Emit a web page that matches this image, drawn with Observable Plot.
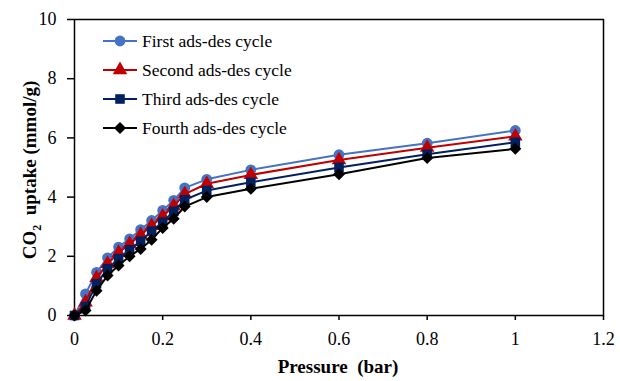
<!DOCTYPE html>
<html><head><meta charset="utf-8">
<script src="https://cdn.jsdelivr.net/npm/d3@7"></script>
<script src="https://cdn.jsdelivr.net/npm/@observablehq/plot@0.6"></script>
<style>
body{margin:0;background:#fff}
#wrap{position:relative;width:620px;height:381px}
</style>
</head><body><div id="wrap"></div>
<script>
const pressure = [0, 0.025, 0.05, 0.075, 0.1, 0.125, 0.15, 0.175, 0.2, 0.225, 0.25, 0.3, 0.4, 0.6, 0.8, 1.0];
const first  = [0, 0.73, 1.46, 1.95, 2.31, 2.59, 2.90, 3.21, 3.55, 3.89, 4.31, 4.60, 4.92, 5.43, 5.82, 6.25];
const second = [0, 0.45, 1.27, 1.75, 2.12, 2.42, 2.72, 3.03, 3.35, 3.70, 4.10, 4.45, 4.75, 5.25, 5.67, 6.05];
const third  = [0, 0.30, 1.07, 1.58, 1.92, 2.22, 2.51, 2.85, 3.15, 3.52, 3.91, 4.22, 4.50, 5.00, 5.45, 5.85];
const fourth = [0, 0.17, 0.84, 1.35, 1.69, 2.00, 2.25, 2.56, 2.96, 3.27, 3.68, 4.00, 4.28, 4.77, 5.32, 5.63];
const seriesNames = ["First ads-des cycle", "Second ads-des cycle", "Third ads-des cycle", "Fourth ads-des cycle"];
const xTicks = [0, 0.2, 0.4, 0.6, 0.8, 1, 1.2];
const yTicks = [0, 2, 4, 6, 8, 10];

const colors = ["#4472C4", "#C00000", "#002060", "#000000"];
const symbols = ["circle", "triangle", "square", "diamond2"];
const seriesValues = [first, second, third, fourth];

const rows = [];
seriesValues.forEach((vals, i) => {
  vals.forEach((v, j) => rows.push({series: seriesNames[i], p: pressure[j], v}));
});

const serif = "'Liberation Serif', 'Times New Roman', serif";

const marks = [
  Plot.frame({stroke: "#000", strokeWidth: 1.5}),
  Plot.axisX({ticks: xTicks, tickSize: 5, tickPadding: 12, tickFormat: d => String(d), fontSize: 18, label: null, strokeWidth: 1.5}),
  Plot.axisY({ticks: yTicks, tickSize: 7, tickPadding: 11, tickFormat: d => String(d), fontSize: 18, label: null, strokeWidth: 1.5})
];
seriesNames.forEach((name, i) => {
  const data = rows.filter(r => r.series === name);
  marks.push(Plot.line(data, {x: "p", y: "v", stroke: colors[i], strokeWidth: 2}));
  marks.push(Plot.dot(data, {x: "p", y: "v", fill: colors[i], stroke: "none", symbol: symbols[i], r: 5.4}));
});

const chart = Plot.plot({
  width: 620, height: 381,
  marginLeft: 74, marginRight: 17, marginTop: 19, marginBottom: 66,
  style: {fontFamily: serif, fontSize: "18px", color: "#000", background: "#fff"},
  x: {domain: [0, 1.2]},
  y: {domain: [0, 10]},
  marks
});
document.getElementById("wrap").appendChild(chart);

const svg = d3.select(chart);
// axis titles
svg.append("text")
  .attr("x", 338).attr("y", 373)
  .attr("text-anchor", "middle")
  .style("font", `bold 19px ${serif}`).style("white-space", "pre")
  .text("Pressure  (bar)");
const yt = svg.append("text")
  .attr("transform", "translate(36,170) rotate(-90)")
  .attr("text-anchor", "middle")
  .style("font", `bold 19px ${serif}`).style("white-space", "pre");
yt.append("tspan").text("CO");
yt.append("tspan").attr("dy", 5).style("font-size", "12px").text("2");
yt.append("tspan").attr("dy", -5).text("  uptake (mmol/g)");

// legend
const symMap = {circle: d3.symbolCircle, triangle: d3.symbolTriangle, square: d3.symbolSquare, diamond2: d3.symbolDiamond2};
const lg = svg.append("g").attr("text-anchor", "start");
seriesNames.forEach((name, i) => {
  const y = 41 + i * 29;
  const g = lg.append("g").attr("transform", `translate(0,${y})`);
  g.append("line").attr("x1", 103).attr("x2", 137).attr("y1", 0).attr("y2", 0)
    .attr("stroke", colors[i]).attr("stroke-width", 2);
  g.append("path").attr("transform", "translate(120,0)")
    .attr("d", d3.symbol(symMap[symbols[i]], Math.PI * 5.4 * 5.4)())
    .attr("fill", colors[i]);
  g.append("text").attr("x", 142).attr("y", 0).attr("dy", "0.35em")
    .attr("text-anchor", "start")
    .style("font", `17.5px ${serif}`).text(name);
});
</script>
</body></html>
